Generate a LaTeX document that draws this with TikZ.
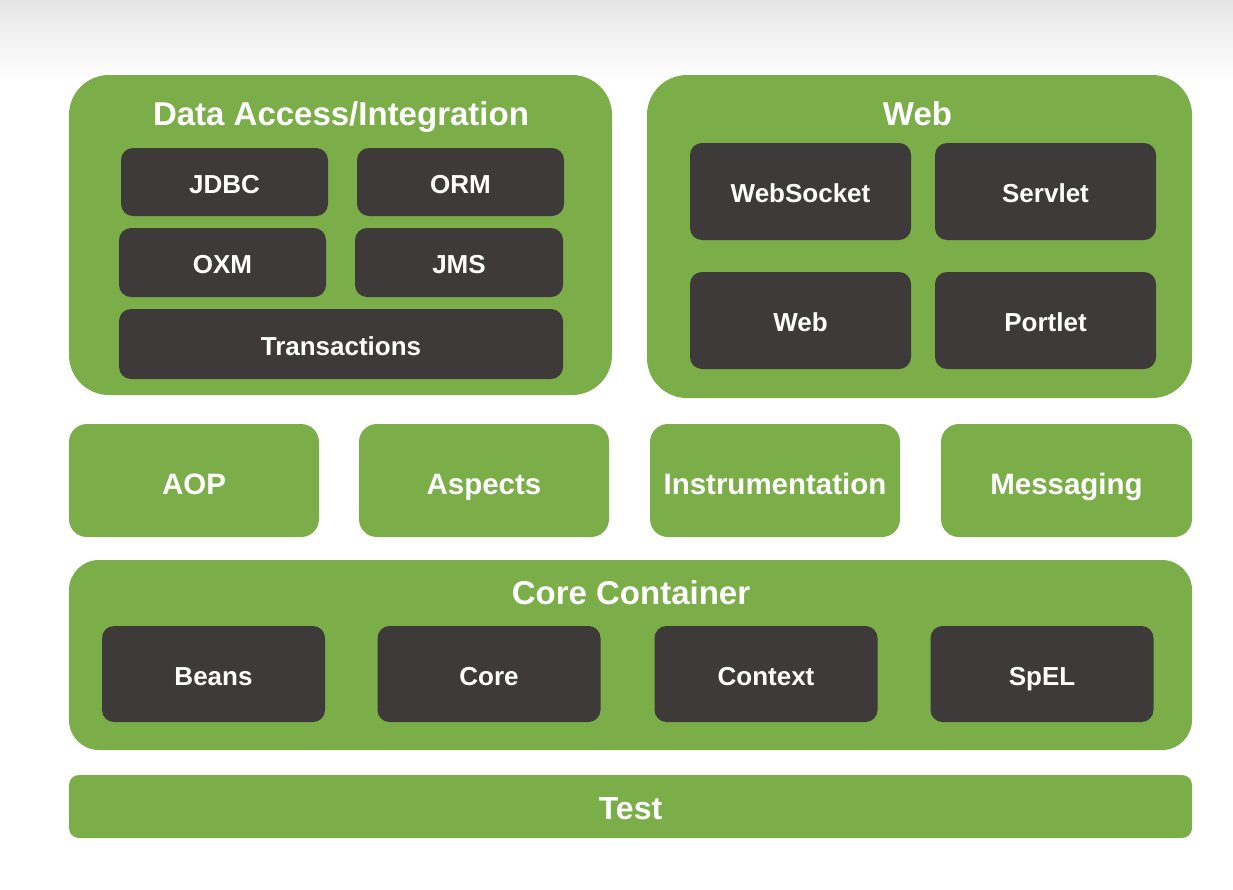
\documentclass[tikz,border=0pt]{standalone}
\usepackage{fontspec}
\setmainfont{Liberation Sans}
\definecolor{sgreen}{HTML}{7BAD48}
\definecolor{sdark}{HTML}{3E3A39}
\tikzset{
  outerbox/.style={fill=sgreen, draw=none, rounded corners=40pt, inner sep=0pt, outer sep=0pt},
  midbox/.style={fill=sgreen, draw=none, rounded corners=18pt, inner sep=0pt, outer sep=0pt, text=white, font=\bfseries\fontsize{29.5}{34}\selectfont, text height=27.1pt, text depth=0pt},
  darkbox/.style={fill=sdark, draw=none, rounded corners=12pt, inner sep=0pt, outer sep=0pt, text=white, font=\bfseries\fontsize{26}{30}\selectfont, text height=22.6pt, text depth=0pt},
  title/.style={text=white, font=\bfseries\fontsize{33}{37}\selectfont, inner sep=0pt, text height=23.6pt, text depth=0pt},
}
\begin{document}
\begin{tikzpicture}[x=1pt,y=-1pt]
\useasboundingbox (0,0) rectangle (1233,889);
\fill[white] (0,0) rectangle (1233,889);
\shade[top color=black!10, bottom color=white] (0,0) rectangle (1233,80);
% Data access
\node[outerbox, minimum width=543pt, minimum height=320pt] (da) at (340.5,235) {};
\node[title] (datitle) at (341,113.5) {Data Access/Integration};
\node[darkbox, minimum width=207pt, minimum height=68pt] (jdbc) at (224.5,182) {JDBC};
\node[darkbox, minimum width=207pt, minimum height=68pt] (orm) at (460.5,182) {ORM};
\node[darkbox, minimum width=207pt, minimum height=69pt] (oxm) at (222.5,262.5) {OXM};
\node[darkbox, minimum width=208pt, minimum height=69pt] (jms) at (459,262.5) {JMS};
\node[darkbox, minimum width=444pt, minimum height=70pt] (tx) at (341,344) {Transactions};
% Web
\node[outerbox, minimum width=545pt, minimum height=323pt] (web) at (919.5,236.5) {};
\node[title] (webtitle) at (917.5,113.5) {Web};
\node[darkbox, minimum width=221pt, minimum height=97pt] (ws) at (800.5,191.5) {WebSocket};
\node[darkbox, minimum width=221pt, minimum height=97pt] (servlet) at (1045.5,191.5) {Servlet};
\node[darkbox, minimum width=221pt, minimum height=97pt] (webm) at (800.5,320.5) {Web};
\node[darkbox, minimum width=221pt, minimum height=97pt] (portlet) at (1045.5,320.5) {Portlet};
% middle row
\node[midbox, minimum width=250pt, minimum height=113pt] (aop) at (194,480.5) {AOP};
\node[midbox, minimum width=250pt, minimum height=113pt] (aspects) at (484,480.5) {Aspects};
\node[midbox, minimum width=250pt, minimum height=113pt] (instr) at (775,480.5) {Instrumentation};
\node[midbox, minimum width=251pt, minimum height=113pt] (msg) at (1066.5,480.5) {Messaging};
% core container
\node[outerbox, rounded corners=30pt, minimum width=1123pt, minimum height=190pt] (cc) at (630.5,655) {};
\node[title] (cctitle) at (631,592.5) {Core Container};
\node[darkbox, minimum width=223pt, minimum height=96pt] (beans) at (213.5,674) {Beans};
\node[darkbox, minimum width=223pt, minimum height=96pt] (core) at (489,674) {Core};
\node[darkbox, minimum width=223pt, minimum height=96pt] (ctx) at (766,674) {Context};
\node[darkbox, minimum width=223pt, minimum height=96pt] (spel) at (1042,674) {SpEL};
% test
\node[midbox, rounded corners=10pt, font=\bfseries\fontsize{32}{36}\selectfont, text height=26.9pt, minimum width=1123pt, minimum height=63pt] (test) at (630.5,806.5) {Test};
\end{tikzpicture}
\end{document}
